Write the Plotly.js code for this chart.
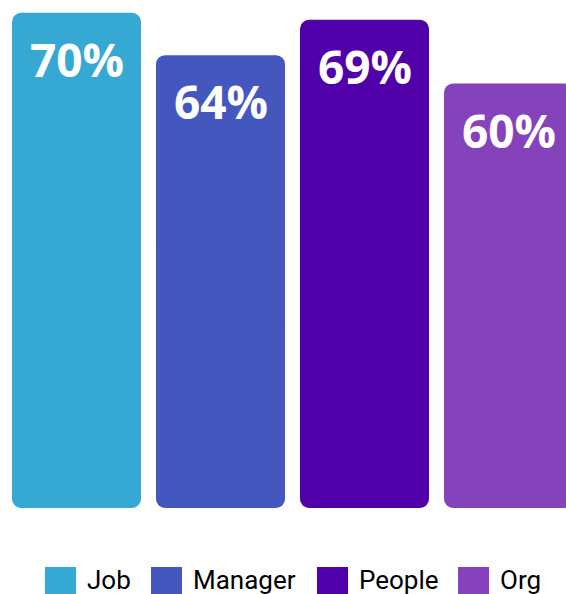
<!DOCTYPE html>
<html>
<head>
<meta charset="utf-8">
<script src="https://cdn.plot.ly/plotly-3.0.1.min.js"></script>
<style>html,body{margin:0;padding:0;background:#fff;}#chart{width:566px;height:594px;}</style>
</head>
<body>
<div id="chart"></div>
<script>
// ---- data ----
const categories = ["Job", "Manager", "People", "Org"];
const values = [70, 64, 69, 60];
const labels = ["70%", "64%", "69%", "60%"];
const colors = ["#35A8D4", "#4357BE", "#5000A8", "#8443BA"];

// each bar drawn as two overlapping pieces so both ends are rounded
const lower = {
  type: "bar", x: categories,
  base: values.map(v => v * 0.6), y: values.map(v => -v * 0.6),
  marker: {color: colors, cornerradius: 9, line: {width: 0}},
  hoverinfo: "skip", showlegend: false
};
const upper = {
  type: "bar", x: categories,
  base: values.map(v => v * 0.4), y: values.map(v => v * 0.6),
  marker: {color: colors, cornerradius: 9, line: {width: 0}},
  hoverinfo: "skip", showlegend: false
};

const W = 566, H = 594, plotBottom = 508;
const px = x => x / W;
const py = y => (plotBottom - y) / plotBottom;

const annotations = categories.map((c, i) => ({
  x: c, y: values[i], xref: "x", yref: "y",
  text: labels[i], showarrow: false, yanchor: "top", xanchor: "center",
  yshift: -13,
  font: {family: "Open Sans", size: 46, color: "#ffffff", weight: 700}
}));

// custom legend
const legendSquareX = [45, 151, 317, 458];
const shapes = [];
categories.forEach((c, i) => {
  shapes.push({
    type: "rect", xref: "paper", yref: "paper",
    x0: px(legendSquareX[i]), x1: px(legendSquareX[i] + 31),
    y0: py(567), y1: py(598),
    fillcolor: colors[i], line: {width: 0}, layer: "above"
  });
  annotations.push({
    xref: "paper", yref: "paper",
    x: px(legendSquareX[i] + 40), y: py(580),
    xanchor: "left", yanchor: "middle", showarrow: false,
    text: c, font: {family: "Roboto", size: 26, color: "#000000", weight: 400}
  });
});

const layout = {
  width: W, height: H,
  margin: {l: 0, r: 0, t: 0, b: H - plotBottom, pad: 0},
  paper_bgcolor: "#ffffff", plot_bgcolor: "#ffffff",
  barmode: "overlay", bargap: 15 / 144,
  xaxis: {range: [-76.5 / 144, (W - 76.5) / 144], visible: false, fixedrange: true},
  yaxis: {range: [0, plotBottom / 7.075], visible: false, fixedrange: true},
  showlegend: false, hovermode: false,
  annotations: annotations, shapes: shapes
};

Plotly.newPlot("chart", [lower, upper], layout, {displayModeBar: false, staticPlot: true});
</script>
</body>
</html>
